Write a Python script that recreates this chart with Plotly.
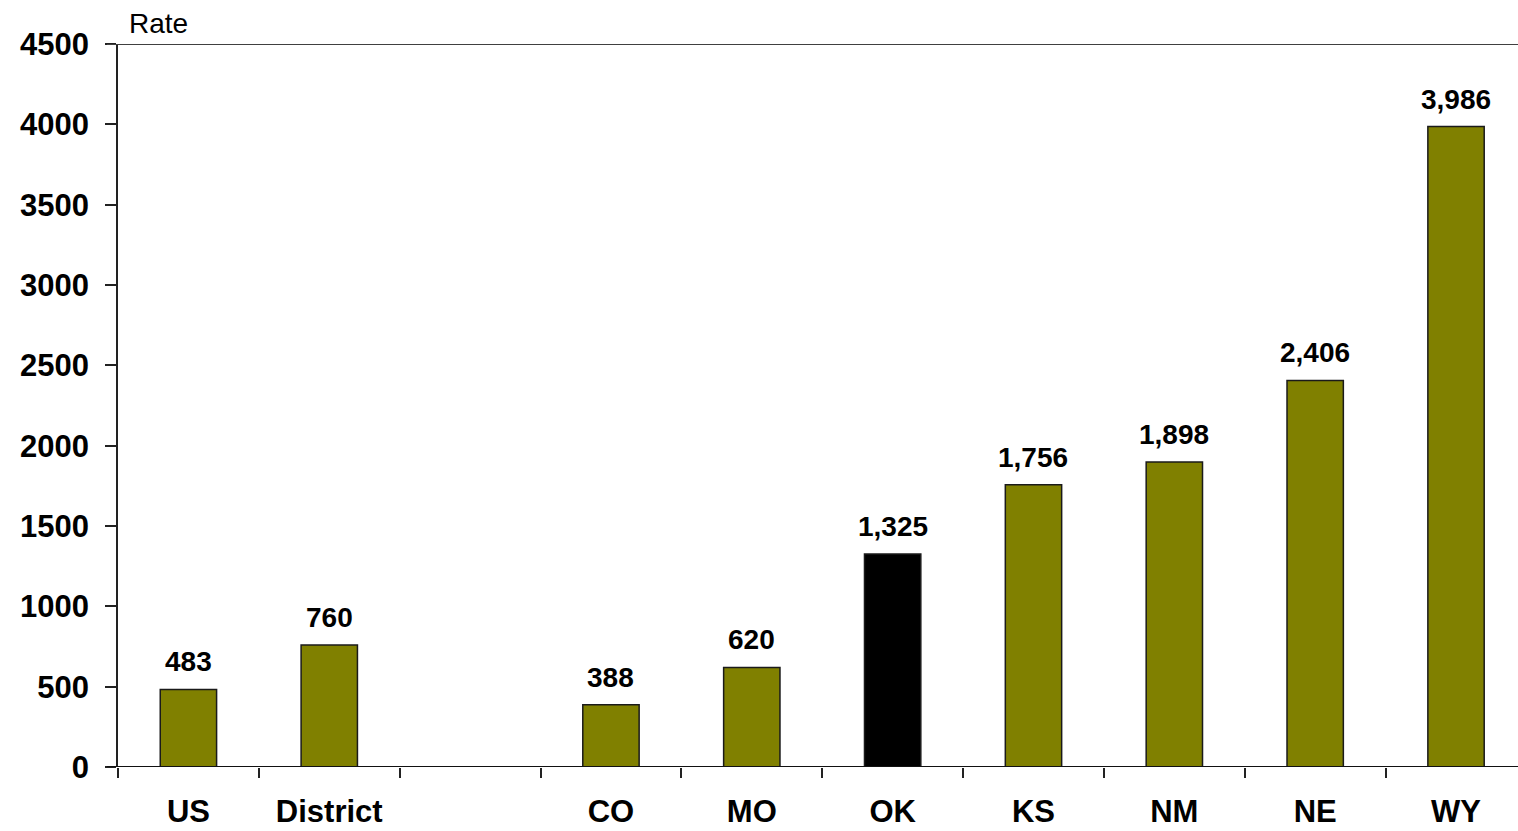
import plotly.graph_objects as go

# Rates by area; the blank slot separates the US/District group from the states
categories = ["US", "District", " ", "CO", "MO", "OK", "KS", "NM", "NE", "WY"]
rates = [483, 760, None, 388, 620, 1325, 1756, 1898, 2406, 3986]
rate_labels = ["483", "760", "", "388", "620", "1,325", "1,756", "1,898", "2,406", "3,986"]
highlight = "OK"
y_ticks = [0, 500, 1000, 1500, 2000, 2500, 3000, 3500, 4000, 4500]

OLIVE = "#808000"
FONT = "Liberation Sans, Arial"
colors = ["#000000" if c == highlight else OLIVE for c in categories]

fig = go.Figure(
    go.Bar(
        x=categories,
        y=rates,
        marker=dict(color=colors, line=dict(color="#1a1a1a", width=1.5)),
        width=0.4,
        hoverinfo="x+y",
    )
)

# value labels sitting above each bar
value_annotations = [
    dict(x=c, y=v, text=t, xref="x", yref="y", xanchor="center", yanchor="bottom",
         yshift=10, showarrow=False,
         font=dict(family=FONT, size=28, color="#000000", weight="bold"))
    for c, v, t in zip(categories, rates, rate_labels)
    if v is not None
]

fig.update_layout(
    width=1518,
    height=831,
    margin=dict(l=118, r=0, t=44, b=64),
    paper_bgcolor="white",
    plot_bgcolor="white",
    showlegend=False,
    font=dict(family=FONT, color="#000000"),
    xaxis=dict(
        type="category",
        categoryorder="array",
        categoryarray=categories,
        range=[-0.5, 9.44],
        tickson="boundaries",
        ticks="outside",
        ticklen=10,
        tickwidth=1.5,
        tickcolor="#222222",
        showline=False,
        showgrid=False,
        zeroline=False,
        automargin=False,
        tickfont=dict(size=31, weight="bold"),
        ticklabelstandoff=23,
    ),
    yaxis=dict(
        range=[0, 4500],
        tickvals=y_ticks,
        ticktext=[str(v) for v in y_ticks],
        ticks="outside",
        ticklen=11,
        tickwidth=1.5,
        tickcolor="#222222",
        showline=True,
        linewidth=1.5,
        linecolor="#222222",
        showgrid=False,
        zeroline=False,
        automargin=False,
        tickfont=dict(size=31, weight="bold"),
        ticklabelstandoff=10,
    ),
    shapes=[
        # baseline at zero
        dict(type="line", xref="paper", yref="y", x0=-11 / 1400, x1=1, y0=0, y1=0,
             line=dict(color="#111111", width=2)),
        # top rule at the axis maximum
        dict(type="line", xref="paper", yref="y", x0=-11 / 1400, x1=1, y0=4500, y1=4500,
             line=dict(color="#404040", width=2)),
    ],
    annotations=value_annotations + [
        dict(text="Rate", xref="paper", yref="paper", x=9 / 1400, y=1, xanchor="left",
             yanchor="bottom", yshift=3, showarrow=False,
             font=dict(family=FONT, size=28, color="#000000")),
    ],
)

fig.write_html("out.html")
